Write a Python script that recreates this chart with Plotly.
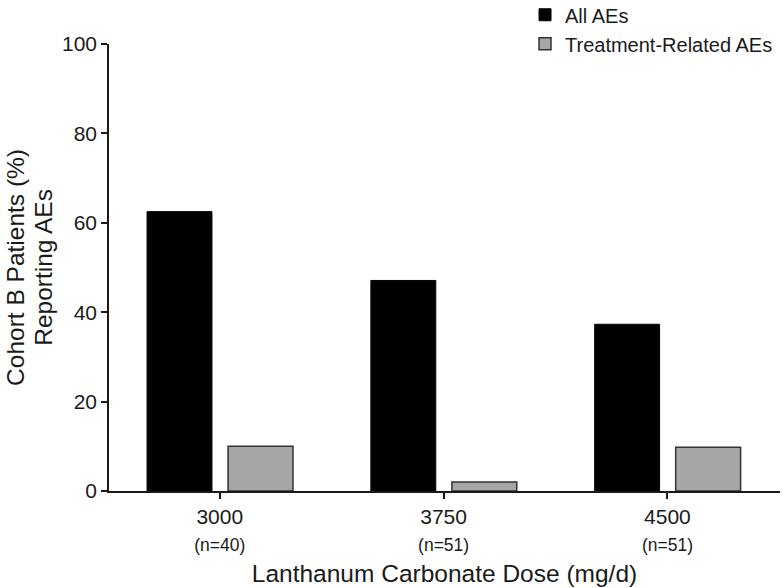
import plotly.graph_objects as go

doses = ["3000", "3750", "4500"]
n_labels = ["(n=40)", "(n=51)", "(n=51)"]
all_aes = [62.5, 47.1, 37.3]
treatment_aes = [10.0, 2.0, 9.8]
y_ticks = [0, 20, 40, 60, 80, 100]
y_title_lines = ["Cohort B Patients (%)", "Reporting AEs"]

xpos = list(range(len(doses)))
ticktext = [f"{d}<br><span style='font-size:17.5px'>{n}</span>" for d, n in zip(doses, n_labels)]

fig = go.Figure()
fig.add_trace(go.Bar(
    x=xpos, y=all_aes, name="All AEs",
    width=0.29, offset=-0.325,
    marker=dict(color="#000000", line=dict(color="#000000", width=1)),
))
fig.add_trace(go.Bar(
    x=xpos, y=treatment_aes, name="Treatment-Related AEs",
    width=0.29, offset=0.037,
    marker=dict(color="#a6a6a6", line=dict(color="#333333", width=1.5)),
))

font_family = "Liberation Sans, Arial, sans-serif"
# y-axis title drawn as two rotated lines (tighter line spacing than plotly's default)
for line, xp in zip(y_title_lines, [-0.1395, -0.0980]):
    fig.add_annotation(
        text=line, xref="paper", yref="paper", x=xp, y=0.5,
        xanchor="center", yanchor="middle", textangle=-90,
        showarrow=False, font=dict(size=24.5, color="#1a1a1a"),
    )

fig.update_layout(
    width=783, height=588,
    margin=dict(l=109, r=3, t=44, b=97, autoexpand=False),
    paper_bgcolor="white", plot_bgcolor="white",
    font=dict(family=font_family, color="#1a1a1a", size=21),
    barmode="overlay",
    showlegend=True,
    legend=dict(
        x=0.62, y=1.109, xanchor="left", yanchor="top",
        font=dict(size=20, color="#1a1a1a"),
        bgcolor="rgba(0,0,0,0)", tracegroupgap=0,
    ),
    xaxis=dict(
        automargin=False,
        range=[-0.495, 2.503],
        tickmode="array", tickvals=xpos, ticktext=ticktext,
        showline=True, linecolor="#1a1a1a", linewidth=1.5,
        ticks="outside", ticklen=6, tickwidth=1.5, tickcolor="#1a1a1a",
        showgrid=False, zeroline=False,
        tickfont=dict(size=21),
        title=dict(text="Lanthanum Carbonate Dose (mg/d)", font=dict(size=24.5), standoff=11),
    ),
    yaxis=dict(
        automargin=False,
        range=[0, 100],
        tickmode="array", tickvals=y_ticks,
        showline=True, linecolor="#1a1a1a", linewidth=1.5,
        ticks="outside", ticklen=6, tickwidth=1.5, tickcolor="#1a1a1a",
        showgrid=False, zeroline=False,
        tickfont=dict(size=21),
    ),
)

fig.write_html("out.html", config={"displayModeBar": False},
               post_script="document.body.style.margin='0';")
